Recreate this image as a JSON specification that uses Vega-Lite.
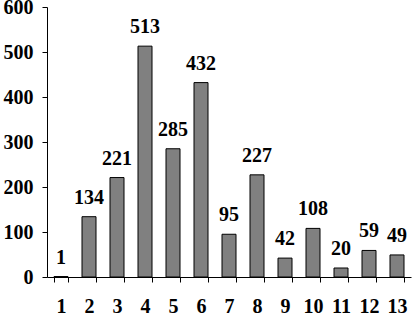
{
  "$schema": "https://vega.github.io/schema/vega-lite/v6.json",
  "autosize": "none",
  "width": 364,
  "height": 270,
  "padding": {"left": 47, "top": 7, "right": 1, "bottom": 38},
  "background": "white",
  "config": {"view": {"stroke": null}},
  "data": {"values": [
    {"x": "1", "v": 1}, {"x": "2", "v": 134}, {"x": "3", "v": 221}, {"x": "4", "v": 513},
    {"x": "5", "v": 285}, {"x": "6", "v": 432}, {"x": "7", "v": 95}, {"x": "8", "v": 227},
    {"x": "9", "v": 42}, {"x": "10", "v": 108}, {"x": "11", "v": 20}, {"x": "12", "v": 59},
    {"x": "13", "v": 49}
  ]},
  "encoding": {
    "x": {"field": "x", "type": "ordinal", "sort": null,
      "scale": {"paddingInner": 0.5, "paddingOuter": 0.25},
      "axis": {"title": null, "labelAngle": 0, "labelFont": "Liberation Serif", "labelFontWeight": "bold",
        "labelFontSize": 20, "labelColor": "black", "labelPadding": 30, "labelBaseline": "alphabetic",
        "tickBand": "extent", "tickSize": 5, "tickColor": "black", "domainColor": "black", "grid": false}},
    "y": {"field": "v", "type": "quantitative",
      "scale": {"domain": [0, 600], "nice": false},
      "axis": {"title": null, "values": [0, 100, 200, 300, 400, 500, 600], "labelFont": "Liberation Serif",
        "labelFontWeight": "bold", "labelFontSize": 20, "labelColor": "black", "labelPadding": 9,
        "tickSize": 5, "tickColor": "black", "domainColor": "black", "grid": false}}
  },
  "layer": [
    {"mark": {"type": "bar", "fill": "#808080", "stroke": "black", "strokeWidth": 1}},
    {"mark": {"type": "text", "font": "Liberation Serif", "fontWeight": "bold", "fontSize": 20,
      "baseline": "alphabetic", "dy": -13, "color": "black"},
     "encoding": {"text": {"field": "v", "type": "quantitative"}}}
  ]
}
